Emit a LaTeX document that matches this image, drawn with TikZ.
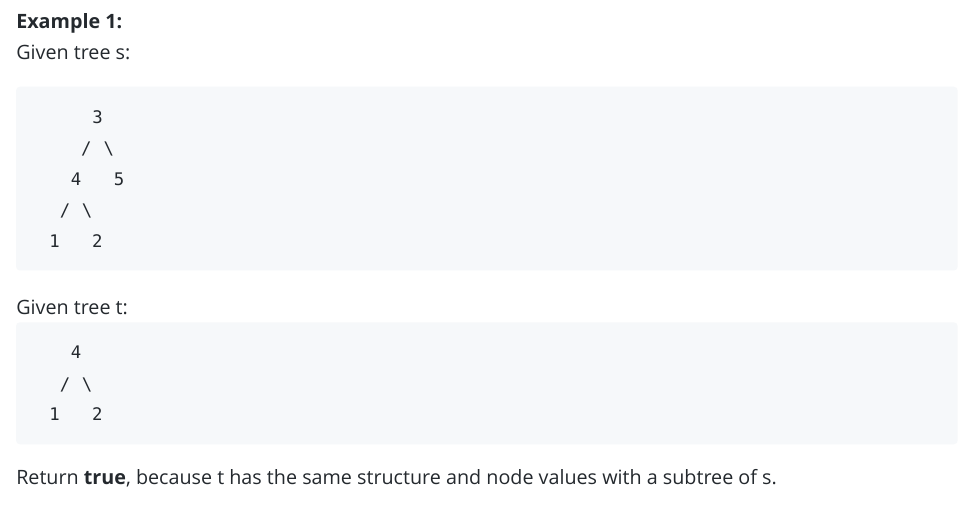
\documentclass[tikz,border=0pt]{standalone}
\usepackage{fontspec}
\setmainfont{Open Sans}
\newfontfamily\codefont{DejaVu Sans Mono}
\definecolor{txt}{HTML}{24292E}
\definecolor{codebg}{HTML}{F6F8FA}
\begin{document}
\begin{tikzpicture}[x=0.75pt,y=-0.75pt,
  prose/.style={anchor=base west,inner sep=0pt,text=txt,font=\fontsize{14.8pt}{18pt}\selectfont},
  head/.style={prose,font=\fontsize{14.8pt}{18pt}\selectfont\bfseries},
  codebox/.style={fill=codebg,draw=none,rounded corners=3pt},
  ch/.style={anchor=base,inner sep=0pt,text=txt,font=\codefont\fontsize{13pt}{15pt}\selectfont},
  sl/.style={anchor=center,inner sep=0pt,text=txt,font=\codefont\fontsize{13pt}{15pt}\selectfont}]
\useasboundingbox[fill=white] (0,0) rectangle (961,509);
\node[head] (ex) at (16,28.3) {Example 1:};
\node[prose] (gs) at (16,59.3) {Given tree s:};
\path[codebox] (16,86.7) rectangle (957.7,270.5);
\node[ch] (s3) at (97.5,124) {3};
\node[sl] (sa) at (86.3,149) {/};
\node[sl] (sb) at (108.8,149) {\textbackslash};
\node[ch] (s4) at (76.2,186) {4};
\node[ch] (s5) at (119,186) {5};
\node[sl] (sc) at (65,211) {/};
\node[sl] (sd) at (87.2,211) {\textbackslash};
\node[ch] (s1) at (54.7,248) {1};
\node[ch] (s2) at (97.3,248) {2};
\node[prose] (gt) at (16,315) {Given tree t:};
\path[codebox] (16,322.3) rectangle (957.7,444.3);
\node[ch] (t4) at (76.2,359) {4};
\node[sl] (ta) at (65,385) {/};
\node[sl] (tb) at (87.2,385) {\textbackslash};
\node[ch] (t1) at (54.7,421) {1};
\node[ch] (t2) at (97.3,421) {2};
\node[prose] (ret) at (16,484.3) {Return \textbf{true}, because t has the same structure and node values with a subtree of s.};
\end{tikzpicture}
\end{document}
